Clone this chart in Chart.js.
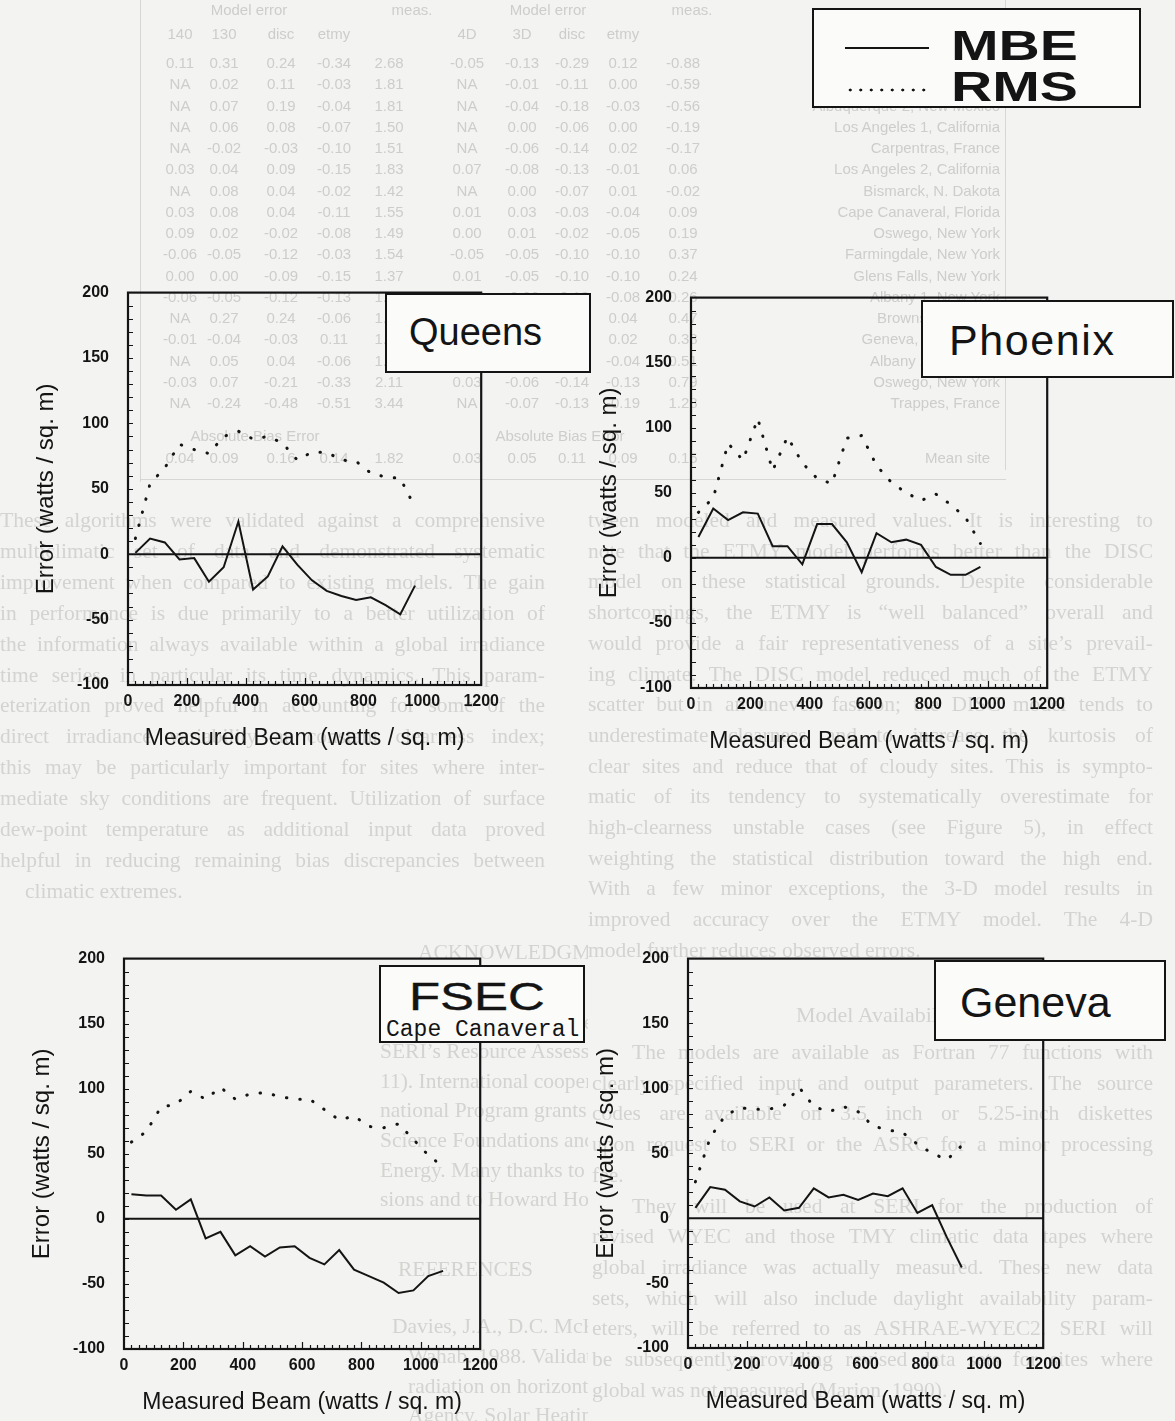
<!DOCTYPE html>
<html>
<head>
<meta charset="utf-8">
<title>Model error against measured beam</title>
<script src="https://cdn.jsdelivr.net/npm/chart.js@4.4.1/dist/chart.umd.min.js"></script>
<style>
  html, body { margin: 0; padding: 0; background: #f3f3f2; }
  #page { position: relative; width: 1175px; height: 1421px; overflow: hidden; }

  /* faint print showing through from the other side of the sheet */
  .ghost { position: absolute; overflow: hidden; color: #d3d3d1; font-family: "Liberation Serif", "Times New Roman", serif; font-size: 21.5px; line-height: 30.9px; white-space: nowrap; filter: blur(0.4px); }
  .ghost .j { text-align: justify; text-align-last: justify; }
  .gt { position: absolute; color: #cdcdcb; font-family: "Liberation Sans Narrow", "Arial Narrow", sans-serif; font-size: 15px; white-space: nowrap; filter: blur(0.3px); }
  .rule { position: absolute; background: #d6d6d4; }

  canvas.plot { position: absolute; }

  .tag { position: absolute; box-sizing: border-box; background: #fbfbfa; border: 2px solid #141414; color: #141414; font-family: "Liberation Sans", Arial, sans-serif; }
  .tag .name { position: absolute; white-space: nowrap; line-height: 1; }
  .key-solid { position: absolute; height: 0; border-top: 2.5px solid #141414; }
  .key-dots { position: absolute; height: 4px; background-image: radial-gradient(circle, #141414 1.3px, transparent 1.7px); background-size: 10.5px 4px; }
</style>
</head>
<body>
<div id="page">

  <div class="rule" style="left:140px;top:0;width:1px;height:482px"></div>
  <div class="rule" style="left:1005px;top:0;width:1px;height:470px"></div>
  <div class="rule" style="left:140px;top:479px;width:866px;height:1px"></div>

  <div class="ghost" style="left:0;top:505px;width:545px;height:400px">
    <div class="j" style="width:545px">These algorithms were validated against a comprehensive</div>
    <div class="j" style="width:545px">multiclimatic set of data and demonstrated systematic</div>
    <div class="j" style="width:545px">improvement when compared to existing models. The gain</div>
    <div class="j" style="width:545px">in performance is due primarily to a better utilization of</div>
    <div class="j" style="width:545px">the information always available within a global irradiance</div>
    <div class="j" style="width:545px">time series, in particular its time dynamics. This param-</div>
    <div class="j" style="width:545px">eterization proved helpful in accounting for some of the</div>
    <div class="j" style="width:545px">direct irradiance variability at constant clearness index;</div>
    <div class="j" style="width:545px">this may be particularly important for sites where inter-</div>
    <div class="j" style="width:545px">mediate sky conditions are frequent. Utilization of surface</div>
    <div class="j" style="width:545px">dew-point temperature as additional input data proved</div>
    <div class="j" style="width:545px">helpful in reducing remaining bias discrepancies between</div>
    <div style="width:545px;padding-left:25px">climatic extremes.</div>
  </div>

  <div class="ghost" style="left:588px;top:505px;width:565px;height:470px;line-height:30.7px">
    <div class="j">tween modeled and measured values. It is interesting to</div>
    <div class="j">note that the ETMY model performs better than the DISC</div>
    <div class="j">model on these statistical grounds. Despite considerable</div>
    <div class="j">shortcomings, the ETMY is “well balanced” overall and</div>
    <div class="j">would provide a fair representativeness of a site’s prevail-</div>
    <div class="j">ing climate. The DISC model reduced much of the ETMY</div>
    <div class="j">scatter but in an uneven fashion; the DISC model tends to</div>
    <div class="j">underestimate clearness and to increase the kurtosis of</div>
    <div class="j">clear sites and reduce that of cloudy sites. This is sympto-</div>
    <div class="j">matic of its tendency to systematically overestimate for</div>
    <div class="j">high-clearness unstable cases (see Figure 5), in effect</div>
    <div class="j">weighting the statistical distribution toward the high end.</div>
    <div class="j">With a few minor exceptions, the 3-D model results in</div>
    <div class="j">improved accuracy over the ETMY model. The 4-D</div>
    <div>model further reduces observed errors.</div>
  </div>

  <div class="ghost" style="left:592px;top:1000px;width:561px;height:421px;line-height:30.7px">
    <div style="padding-left:204px;font-size:22px;line-height:30px">Model Availability and Utilization</div>
    <div style="height:7px"></div>
    <div class="j" style="padding-left:40px">The models are available as Fortran 77 functions with</div>
    <div class="j">clearly specified input and output parameters. The source</div>
    <div class="j">codes are available on 3.5 inch or 5.25-inch diskettes</div>
    <div class="j">upon request to SERI or the ASRC for a minor processing</div>
    <div>fee.</div>
    <div class="j" style="padding-left:40px">They will be used at SERI for the production of</div>
    <div class="j">revised WYEC and those TMY climatic data tapes where</div>
    <div class="j">global irradiance was actually measured. These new data</div>
    <div class="j">sets, which will also include daylight availability param-</div>
    <div class="j">eters, will be referred to as ASHRAE-WYEC2. SERI will</div>
    <div class="j">be subsequently providing revised data sets for sites where</div>
    <div>global was not measured (Marion, 1990).</div>
  </div>

  <div class="ghost" style="left:330px;top:938px;width:258px;height:483px;line-height:29.6px">
    <div style="padding-left:88px">ACKNOWLEDGMENT</div>
    <div style="height:40px"></div>
    <div style="padding-left:55px">This work was sponsored by ASHRAE (RP-644) and</div>
    <div style="padding-left:50px">SERI’s Resource Assessment Branch (Contract #C0-9-</div>
    <div style="padding-left:50px">11). International cooperation was made possible by</div>
    <div style="padding-left:50px">national Program grants from the Swiss and U.S. National</div>
    <div style="padding-left:50px">Science Foundations and by the Swiss Federal Office for</div>
    <div style="padding-left:50px">Energy. Many thanks to Chip Barnaby for helpful discus-</div>
    <div style="padding-left:50px">sions and to Howard Hosmer for programming work.</div>
    <div style="height:40px"></div>
    <div style="padding-left:68px">REFERENCES</div>
    <div style="height:28px"></div>
    <div style="padding-left:62px">Davies, J.A., D.C. McKay, G. Luciani, and M. Abdel-</div>
    <div style="padding-left:78px">Wahab. 1988. Validation of models for estimating solar</div>
    <div style="padding-left:78px">radiation on horizontal surfaces. International Energy</div>
    <div style="padding-left:78px">Agency, Solar Heating and Cooling Program, Task IX.</div>
  </div>

  <canvas class="plot" id="queens" width="498" height="492" style="left:8px;top:264px"></canvas>
  <canvas class="plot" id="phoenix" width="501" height="490" style="left:571px;top:269px"></canvas>
  <canvas class="plot" id="fsec" width="501" height="490" style="left:4px;top:930px"></canvas>
  <canvas class="plot" id="geneva" width="500" height="489" style="left:568px;top:930px"></canvas>

  <div class="tag" style="left:812px;top:8px;width:329px;height:100px">
    <div class="key-solid" style="left:31px;top:37px;width:84px"></div>
    <div class="key-dots" style="left:31px;top:78px;width:84px"></div>
    <div class="name" style="left:137px;top:15px;font-size:42px;font-weight:bold;transform:scaleX(1.36);transform-origin:left">MBE</div>
    <div class="name" style="left:137px;top:56px;font-size:42px;font-weight:bold;transform:scaleX(1.36);transform-origin:left">RMS</div>
  </div>

  <div class="tag" style="left:385px;top:293px;width:206px;height:80px">
    <div class="name" style="left:22px;top:18px;font-size:38px">Queens</div>
  </div>
  <div class="tag" style="left:921px;top:300px;width:253px;height:78px">
    <div class="name" style="left:26px;top:17px;font-size:43px;letter-spacing:1.6px">Phoenix</div>
  </div>
  <div class="tag" style="left:379px;top:965px;width:206px;height:78px">
    <div class="name" style="left:28px;top:11px;font-size:38px;transform:scaleX(1.34);transform-origin:left;-webkit-text-stroke:0.4px #141414">FSEC</div>
    <div class="name" style="left:5px;top:52px;font-size:23px;font-family:'Liberation Mono','Courier New',monospace">Cape Canaveral</div>
  </div>
  <div class="tag" style="left:934px;top:960px;width:232px;height:81px">
    <div class="name" style="left:24px;top:19px;font-size:43px">Geneva</div>
  </div>

</div>

<script>
// measured beam bin centres (watts / sq. m)
const beam = [25, 75, 125, 175, 225, 275, 325, 375, 425, 475, 525, 575, 625, 675, 725, 775, 825, 875, 925, 975];
const beamFsec = [25, 75, 125, 175, 225, 275, 325, 375, 425, 475, 525, 575, 625, 675, 725, 775, 825, 875, 925, 975, 1025, 1075];
const beamGeneva = [25, 75, 125, 175, 225, 275, 325, 375, 425, 475, 525, 575, 625, 675, 725, 775, 825, 875, 925];

// mean bias error and rms error per bin (watts / sq. m)
const queensMBE = [1, 12, 9, -4, -3, -21, -10, 25, -27, -17, 6, -8, -20, -28, -32, -35, -33, -39, -46, -24];
const queensRMS = [12, 54, 66, 84, 80, 77, 90, 94, 88, 90, 85, 72, 78, 78, 72, 71, 62, 59, 58, 36];

const phoenixMBE = [16, 38, 29, 35, 34, 9, 9, -5, 26, 26, 12, -11, 19, 12, 14, 10, -7, -13, -13, -7];
const phoenixRMS = [35, 46, 88, 75, 107, 67, 93, 73, 61, 57, 92, 94, 71, 58, 50, 44, 49, 41, 31, 11];

const fsecMBE = [19, 18, 18, 7, 15, -15, -10, -28, -21, -29, -22, -21, -30, -35, -24, -39, -44, -49, -57, -55, -44, -40];
const fsecRMS = [59, 67, 86, 88, 98, 92, 101, 92, 96, 97, 94, 92, 92, 84, 76, 79, 71, 70, 73, 61, 49, 40];

const genevaMBE = [8, 24, 22, 13, 9, 16, 6, 8, 23, 16, 18, 14, 19, 17, 23, 4, 10, -15, -38];
const genevaRMS = [28, 62, 79, 85, 84, 84, 87, 101, 86, 82, 86, 82, 71, 68, 66, 57, 50, 45, 56];

// axis tick labels
const beamTicks = [0, 200, 400, 600, 800, 1000, 1200];
const errorTicks = [-100, -50, 0, 50, 100, 150, 200];

const ink = '#141414';

// the error table printed on the reverse of the sheet
const tableRows = [
  ['0.11', '0.31', '0.24', '-0.34', '2.68', '-0.05', '-0.13', '-0.29', '0.12', '-0.88', 'Phoenix, Arizona'],
  ['NA', '0.02', '0.11', '-0.03', '1.81', 'NA', '-0.01', '-0.11', '0.00', '-0.59', 'Albuquerque 1, New Mexico'],
  ['NA', '0.07', '0.19', '-0.04', '1.81', 'NA', '-0.04', '-0.18', '-0.03', '-0.56', 'Albuquerque 2, New Mexico'],
  ['NA', '0.06', '0.08', '-0.07', '1.50', 'NA', '0.00', '-0.06', '0.00', '-0.19', 'Los Angeles 1, California'],
  ['NA', '-0.02', '-0.03', '-0.10', '1.51', 'NA', '-0.06', '-0.14', '0.02', '-0.17', 'Carpentras, France'],
  ['0.03', '0.04', '0.09', '-0.15', '1.83', '0.07', '-0.08', '-0.13', '-0.01', '0.06', 'Los Angeles 2, California'],
  ['NA', '0.08', '0.04', '-0.02', '1.42', 'NA', '0.00', '-0.07', '0.01', '-0.02', 'Bismarck, N. Dakota'],
  ['0.03', '0.08', '0.04', '-0.11', '1.55', '0.01', '0.03', '-0.03', '-0.04', '0.09', 'Cape Canaveral, Florida'],
  ['0.09', '0.02', '-0.02', '-0.08', '1.49', '0.00', '0.01', '-0.02', '-0.05', '0.19', 'Oswego, New York'],
  ['-0.06', '-0.05', '-0.12', '-0.03', '1.54', '-0.05', '-0.05', '-0.10', '-0.10', '0.37', 'Farmingdale, New York'],
  ['0.00', '0.00', '-0.09', '-0.15', '1.37', '0.01', '-0.05', '-0.10', '-0.10', '0.24', 'Glens Falls, New York'],
  ['-0.06', '-0.05', '-0.12', '-0.13', '1.12', '0.06', '-0.06', '-0.12', '-0.08', '0.26', 'Albany 1, New York'],
  ['NA', '0.27', '0.24', '-0.06', '1.85', 'NA', '0.15', '0.14', '0.04', '0.47', 'Brownsville, Texas'],
  ['-0.01', '-0.04', '-0.03', '0.11', '1.60', '0.01', '0.07', '0.07', '0.02', '0.38', 'Geneva, Switzerland'],
  ['NA', '0.05', '0.04', '-0.06', '1.76', 'NA', '0.01', '-0.04', '-0.04', '0.51', 'Albany 2, New York'],
  ['-0.03', '0.07', '-0.21', '-0.33', '2.11', '0.03', '-0.06', '-0.14', '-0.13', '0.79', 'Oswego, New York'],
  ['NA', '-0.24', '-0.48', '-0.51', '3.44', 'NA', '-0.07', '-0.13', '-0.19', '1.28', 'Trappes, France'],
];
const tableMean = ['0.04', '0.09', '0.16', '0.14', '1.82', '0.03', '0.05', '0.11', '0.09', '0.15', 'Mean site'];
const tableCols = [180, 224, 281, 334, 389, 467, 522, 572, 623, 683];

const page = document.getElementById('page');

// table text goes underneath everything else on the page
function placeText(text, x, y, anchor) {
  const el = document.createElement('div');
  el.className = 'gt';
  el.textContent = text;
  el.style.top = (y - 9) + 'px';
  if (anchor === 'right') {
    el.style.right = (1175 - x) + 'px';
  } else {
    el.style.left = x + 'px';
    el.style.transform = 'translateX(-50%)';
  }
  page.insertBefore(el, page.firstChild);
}

function buildTable() {
  placeText('Model error', 249, 10);
  placeText('meas.', 412, 10);
  placeText('Model error', 548, 10);
  placeText('meas.', 692, 10);
  ['140', '130', 'disc', 'etmy', '', '4D', '3D', 'disc', 'etmy'].forEach((h, i) => {
    if (h) placeText(h, tableCols[i], 34);
  });
  tableRows.forEach((row, r) => {
    const y = 63 + r * 21.25;
    row.slice(0, 10).forEach((v, c) => placeText(v, tableCols[c], y));
    placeText(row[10], 1000, y, 'right');
  });
  placeText('Absolute Bias Error', 255, 436);
  placeText('Absolute Bias Error', 560, 436);
  tableMean.slice(0, 10).forEach((v, c) => placeText(v, tableCols[c], 458));
  placeText(tableMean[10], 990, 458, 'right');
}
buildTable();

function toPoints(xs, ys) {
  return ys.map((v, i) => ({ x: xs[i], y: v }));
}

// plot frame, zero line and the small inward ticks
const framePlugin = {
  id: 'frame',
  afterDatasetsDraw(chart) {
    const { ctx, chartArea: a, scales: { x, y } } = chart;
    ctx.save();
    ctx.strokeStyle = ink;
    ctx.lineWidth = 2.2;
    ctx.strokeRect(a.left, a.top, a.right - a.left, a.bottom - a.top);

    const y0 = y.getPixelForValue(0);
    ctx.lineWidth = 2;
    ctx.beginPath();
    ctx.moveTo(a.left, y0);
    ctx.lineTo(a.right, y0);
    ctx.stroke();

    ctx.lineWidth = 1.2;
    ctx.beginPath();
    for (let v = -90; v < 200; v += 10) {
      const py = Math.round(y.getPixelForValue(v)) + 0.5;
      ctx.moveTo(a.left, py);
      ctx.lineTo(a.left + 5, py);
    }
    for (let v = 25; v < 1200; v += 25) {
      const px = Math.round(x.getPixelForValue(v)) + 0.5;
      const len = v % 200 === 0 ? 7 : 4;
      ctx.moveTo(px, a.bottom);
      ctx.lineTo(px, a.bottom - len);
    }
    ctx.stroke();
    ctx.restore();
  }
};

const tickFont = { family: '"Liberation Sans Narrow", "Arial Narrow", sans-serif', size: 16, weight: 'bold' };
const plainLabel = (v) => String(v);

function drawSite(id, xs, mbe, rms) {
  return new Chart(document.getElementById(id), {
    type: 'scatter',
    data: {
      datasets: [
        {
          label: 'MBE',
          data: toPoints(xs, mbe),
          showLine: true,
          borderColor: ink,
          borderWidth: 2,
          pointRadius: 0,
          tension: 0
        },
        {
          label: 'RMS',
          data: toPoints(xs, rms),
          showLine: true,
          borderColor: ink,
          borderWidth: 3,
          borderDash: [0.5, 13],
          borderCapStyle: 'round',
          pointRadius: 0,
          tension: 0
        }
      ]
    },
    options: {
      responsive: false,
      animation: false,
      events: [],
      layout: { padding: { left: 20, top: 12, right: 14, bottom: 0 } },
      plugins: { legend: { display: false }, tooltip: { enabled: false } },
      scales: {
        x: {
          type: 'linear',
          min: 0,
          max: 1200,
          afterBuildTicks: (s) => { s.ticks = beamTicks.map((v) => ({ value: v })); },
          afterFit: (s) => { s.height = 71; },
          grid: { display: false, drawTicks: false },
          border: { display: false },
          ticks: { color: ink, font: tickFont, padding: 7, maxRotation: 0, autoSkip: false, callback: plainLabel },
          title: {
            display: true,
            text: 'Measured Beam (watts / sq. m)',
            color: ink,
            font: { family: '"Liberation Sans", Arial, sans-serif', size: 23 }
          }
        },
        y: {
          type: 'linear',
          min: -100,
          max: 200,
          afterBuildTicks: (s) => { s.ticks = errorTicks.map((v) => ({ value: v })); },
          afterFit: (s) => { s.width = 100; },
          grid: { display: false, drawTicks: false },
          border: { display: false },
          ticks: { color: ink, font: tickFont, padding: 19, autoSkip: false, callback: plainLabel },
          title: {
            display: true,
            text: 'Error (watts / sq. m)',
            color: ink,
            font: { family: '"Liberation Sans", Arial, sans-serif', size: 24 }
          }
        }
      }
    },
    plugins: [framePlugin]
  });
}

drawSite('queens', beam, queensMBE, queensRMS);
drawSite('phoenix', beam, phoenixMBE, phoenixRMS);
drawSite('fsec', beamFsec, fsecMBE, fsecRMS);
drawSite('geneva', beamGeneva, genevaMBE, genevaRMS);
</script>
</body>
</html>
